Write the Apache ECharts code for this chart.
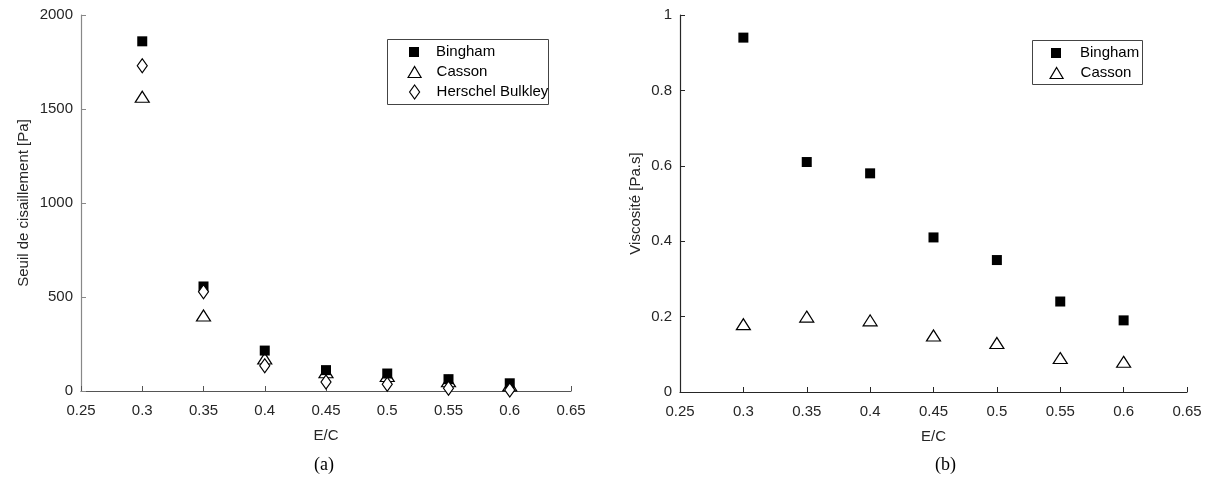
<!DOCTYPE html>
<html>
<head>
<meta charset="utf-8">
<script src="https://cdn.jsdelivr.net/npm/echarts@6/dist/echarts.min.js"></script>
<style>
html,body{margin:0;padding:0;background:#fff;}
#c{width:1213px;height:489px;}
</style>
</head>
<body>
<div id="c"></div>
<script>
const ecRatio = [0.3, 0.35, 0.4, 0.45, 0.5, 0.55, 0.6];
// (a) Seuil de cisaillement [Pa]
const seuilBingham = [1860, 556, 215, 111, 93, 63, 41];
const seuilCasson = [1565, 402, 173, 100, 80, 52, 30];
const seuilHB = [1730, 528, 134, 48, 36, 14, 5];
// (b) Viscosité [Pa.s]
const viscBingham = [0.94, 0.61, 0.58, 0.41, 0.35, 0.24, 0.19];
const viscCasson = [0.18, 0.20, 0.19, 0.15, 0.13, 0.09, 0.08];

const xTicks = [0.25, 0.3, 0.35, 0.4, 0.45, 0.5, 0.55, 0.6, 0.65];
const yTicksA = [0, 500, 1000, 1500, 2000];
const yTicksB = [0, 0.2, 0.4, 0.6, 0.8, 1];

const pairs = (xs, ys) => xs.map((x, i) => [x, ys[i]]);
const FONT = '"Liberation Sans", Arial, sans-serif';

const sq = { symbol: 'rect', symbolSize: 10, itemStyle: { color: '#000', borderWidth: 0, opacity: 1 } };
const tri = { symbol: 'triangle', symbolSize: [14, 11], itemStyle: { color: '#fff', borderColor: '#000', borderWidth: 1.2, opacity: 1 } };
const dia = { symbol: 'diamond', symbolSize: [10, 14], itemStyle: { color: '#fff', borderColor: '#000', borderWidth: 1.2, opacity: 1 } };

function xAx(gi, col) {
  return {
    type: 'value', gridIndex: gi, min: 0.25, max: 0.65, interval: 0.05,
    name: 'E/C', nameLocation: 'middle', nameGap: 37,
    nameTextStyle: { fontFamily: FONT, fontSize: 15, color: '#262626' },
    axisLine: { show: true, onZero: false, lineStyle: { color: col, width: 1.2 } },
    axisTick: { show: true, inside: true, length: 5, lineStyle: { color: col } },
    axisLabel: { fontFamily: FONT, fontSize: 15, color: '#262626', margin: 12,
      formatter: v => String(Math.round(v * 100) / 100) },
    splitLine: { show: false }
  };
}
function yAx(gi, col, max, interval, name, gap) {
  return {
    type: 'value', gridIndex: gi, min: 0, max: max, interval: interval,
    name: name, nameLocation: 'middle', nameGap: gap,
    nameTextStyle: { fontFamily: FONT, fontSize: 15, color: '#262626' },
    axisLine: { show: true, onZero: false, lineStyle: { color: col, width: 1.2 } },
    axisTick: { show: true, inside: true, length: 5, lineStyle: { color: col } },
    axisLabel: { fontFamily: FONT, fontSize: 15, color: '#262626', margin: 8,
      formatter: v => String(Math.round(v * 100) / 100) },
    splitLine: { show: false }
  };
}

// one legend component per entry so each icon keeps its own size
function leg(name, cx, cy, w, h, textStart) {
  return {
    data: [name], left: cx - w / 2, top: cy - 9, padding: 0,
    itemWidth: w, itemHeight: h, selectedMode: false,
    itemStyle: { borderWidth: 1.2 },
    textStyle: { fontFamily: FONT, fontSize: 15, color: '#000', lineHeight: 18,
      padding: [0, 0, 0, textStart - (cx + w / 2) - 5] }
  };
}

const chart = echarts.init(document.getElementById('c'), null, { renderer: 'canvas' });
chart.setOption({
  backgroundColor: '#fff',
  animation: false,
  grid: [
    { left: 81, top: 15, width: 490, height: 376 },
    { left: 680, top: 15, width: 507, height: 377 }
  ],
  xAxis: [xAx(0, '#555'), xAx(1, '#262626')],
  yAxis: [
    yAx(0, '#888', 2000, 500, 'Seuil de cisaillement [Pa]', 50),
    yAx(1, '#262626', 1, 0.2, 'Viscosité [Pa.s]', 37)
  ],
  legend: [
    leg('Bingham', 414, 52, 10, 10, 436),
    leg('Casson', 414, 72, 13, 11, 436),
    leg('Herschel Bulkley', 414, 92, 10, 14, 436),
    leg('Bingham ', 1056, 53, 10, 10, 1080),
    leg('Casson ', 1056, 73, 13, 11, 1080)
  ],
  graphic: [
    { type: 'rect', shape: { x: 387.5, y: 39.5, width: 161, height: 65 }, style: { fill: 'none', stroke: '#444', lineWidth: 1 }, z: 10 },
    { type: 'rect', shape: { x: 1032.5, y: 40.5, width: 110, height: 44 }, style: { fill: 'none', stroke: '#444', lineWidth: 1 }, z: 10 },
    { type: 'text', left: 314, top: 456, style: { text: '(a)', font: '18px "Liberation Serif", "DejaVu Serif", serif', fill: '#000' } },
    { type: 'text', left: 935, top: 456, style: { text: '(b)', font: '18px "Liberation Serif", "DejaVu Serif", serif', fill: '#000' } }
  ],
  series: [
    Object.assign({ type: 'scatter', name: 'Bingham', xAxisIndex: 0, yAxisIndex: 0, data: pairs(ecRatio, seuilBingham), z: 3 }, sq),
    Object.assign({ type: 'scatter', name: 'Casson', xAxisIndex: 0, yAxisIndex: 0, data: pairs(ecRatio, seuilCasson), z: 2 }, tri),
    Object.assign({ type: 'scatter', name: 'Herschel Bulkley', xAxisIndex: 0, yAxisIndex: 0, data: pairs(ecRatio, seuilHB), z: 4 }, dia),
    Object.assign({ type: 'scatter', name: 'Bingham ', xAxisIndex: 1, yAxisIndex: 1, data: pairs(ecRatio, viscBingham) }, sq),
    Object.assign({ type: 'scatter', name: 'Casson ', xAxisIndex: 1, yAxisIndex: 1, data: pairs(ecRatio, viscCasson) }, tri)
  ]
});
</script>
</body>
</html>
